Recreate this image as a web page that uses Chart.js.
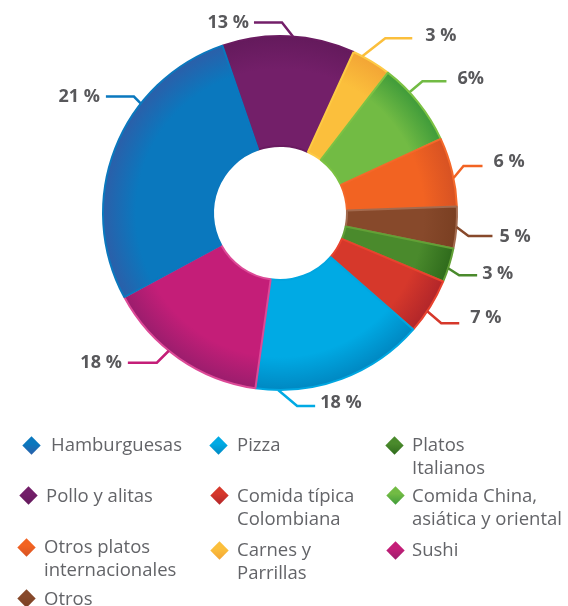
<!DOCTYPE html>
<html><head><meta charset="utf-8">
<script src="https://cdn.jsdelivr.net/npm/chart.js@4"></script>
<style>
html,body{margin:0;padding:0;background:#fff;}
#wrap{position:relative;width:568px;height:606px;overflow:hidden;}
#c{position:absolute;left:0;top:0;}
.lg{position:absolute;font-family:"Open Sans",sans-serif;font-size:18.5px;font-weight:500;color:#636468;line-height:23px;white-space:pre;}
.dm{position:absolute;width:13px;height:13px;transform:rotate(45deg);}
</style></head>
<body><div id="wrap"><canvas id="c" width="568" height="606" style="width:568px;height:606px"></canvas></div>
<script>
// ---- data (slice order, clockwise from the top) ----
const categories = ['Pollo y alitas','Carnes y Parrillas','Comida China, asiática y oriental','Otros platos internacionales','Otros','Platos Italianos','Comida típica Colombiana','Pizza','Sushi','Hamburguesas'];
// share of the ring each slice occupies in the picture (%)
const sliceShares = [12.1, 3.6, 7.7, 6.3, 3.8, 3.1, 5.1, 15.8, 14.9, 27.6];
// percentages printed next to the slices
const printedPercent = [13, 3, 6, 6, 5, 3, 7, 18, 18, 21];
const percentLabels = ['13 %','3 %','6%','6 %','5 %','3 %','7 %','18 %','18 %','21 %'];
// legend (reading order)
const legendOrder = ['Hamburguesas','Pizza','Platos Italianos','Pollo y alitas','Comida típica Colombiana','Comida China, asiática y oriental','Otros platos internacionales','Carnes y Parrillas','Sushi','Otros'];
const legendText = ['Hamburguesas','Pizza','Platos\nItalianos','Pollo y alitas','Comida típica\nColombiana','Comida China,\nasiática y oriental','Otros platos\ninternacionales','Carnes y\nParrillas','Sushi','Otros'];

// ---- styles ----
const baseColor = {
  'Pollo y alitas':'#731f69','Carnes y Parrillas':'#fbbf3c','Comida China, asiática y oriental':'#72bb44',
  'Otros platos internacionales':'#f26322','Otros':'#87492b','Platos Italianos':'#4a8a2c',
  'Comida típica Colombiana':'#d6382b','Pizza':'#00aae4','Sushi':'#c41e78','Hamburguesas':'#0a78be'};
const darkColor = {
  'Pollo y alitas':'#641a5c','Carnes y Parrillas':'#f3a535','Comida China, asiática y oriental':'#3f9b3a',
  'Otros platos internacionales':'#d75223','Otros':'#7a3f22','Platos Italianos':'#2f6b1c',
  'Comida típica Colombiana':'#b2262a','Pizza':'#0088c2','Sushi':'#9b1d6d','Hamburguesas':'#2b5fa9'};
const edgeColor = {
  'Pollo y alitas':'#6a1b60','Carnes y Parrillas':'#fdca45','Comida China, asiática y oriental':'#7cc243',
  'Otros platos internacionales':'#f4682a','Otros':'#a36a4e','Platos Italianos':'#62a036',
  'Comida típica Colombiana':'#e8422e','Pizza':'#00a6e0','Sushi':'#dc4a97','Hamburguesas':'#0a78be'};
// leader-line placement for each printed label: anchor angle (deg, clockwise from top), elbow offset, run, gap, text shift
const leaderLayout = [
  {ang:4.2,  dx:-11, dy:-14, run:-28, gap:5,  ty:0},
  {ang:27.7, dx:23,  dy:-18, run:27,  gap:13, ty:-2},
  {ang:47,   dx:13,  dy:-11, run:24,  gap:11, ty:-2},
  {ang:78.6, dx:10,  dy:-12, run:19,  gap:11, ty:-4},
  {ang:94.5, dx:12,  dy:9,   run:24,  gap:7,  ty:1},
  {ang:108.2,dx:11,  dy:7,   run:18,  gap:5,  ty:-1},
  {ang:123.7,dx:14,  dy:12,  run:18,  gap:11, ty:-5},
  {ang:180.6,dx:19,  dy:16,  run:18,  gap:5,  ty:-3},
  {ang:218.9,dx:-12, dy:12,  run:-29, gap:6,  ty:0},
  {ang:308.2,dx:-7,  dy:-7,  run:-28, gap:6,  ty:0}
];
// legend item placement: diamond centre and text top-left
const legendLayout = [
  {mx:31, my:445, tx:51,  ty:432},
  {mx:218,my:445, tx:237, ty:432},
  {mx:394,my:445, tx:412, ty:432},
  {mx:28, my:495, tx:46,  ty:483},
  {mx:219,my:495, tx:237, ty:483},
  {mx:395,my:495, tx:412, ty:483},
  {mx:26, my:547, tx:44,  ty:534},
  {mx:219,my:550, tx:237, ty:537},
  {mx:395,my:550, tx:412, ty:537},
  {mx:26, my:598, tx:44,  ty:586}
];

function fillFor(ctx){
  const chart = ctx.chart;
  const name = categories[ctx.dataIndex];
  const ca = chart.chartArea;
  if (!ca) return baseColor[name];
  const cx = (ca.left+ca.right)/2, cy = (ca.top+ca.bottom)/2;
  const g = chart.ctx.createRadialGradient(cx,cy,67,cx,cy,177);
  g.addColorStop(0, baseColor[name]);
  g.addColorStop(0.7, baseColor[name]);
  g.addColorStop(1, darkColor[name]);
  return g;
}

const leaderPlugin = {
  id:'leaders',
  afterDatasetsDraw(chart){
    const ctx = chart.ctx;
    const meta = chart.getDatasetMeta(0);
    ctx.save();
    meta.data.forEach((arc,i)=>{
      const L = leaderLayout[i];
      const a = (L.ang-90)*Math.PI/180;
      const r = arc.outerRadius;
      const x0 = arc.x + r*Math.cos(a), y0 = arc.y + r*Math.sin(a);
      const x1 = x0 + L.dx, y1 = y0 + L.dy;
      const x2 = x1 + L.run;
      ctx.strokeStyle = baseColor[categories[i]];
      ctx.lineWidth = 2.5;
      ctx.lineJoin = 'miter';
      ctx.beginPath(); ctx.moveTo(x0,y0); ctx.lineTo(x1,y1); ctx.lineTo(x2,y1); ctx.stroke();
      ctx.fillStyle = '#58585b';
      ctx.font = 'bold 18px "Open Sans", sans-serif';
      ctx.textBaseline = 'middle';
      if (L.run >= 0){ ctx.textAlign='left'; ctx.fillText(percentLabels[i], x2+L.gap, y1+L.ty); }
      else { ctx.textAlign='right'; ctx.fillText(percentLabels[i], x2-L.gap, y1+L.ty); }
    });
    ctx.restore();
  }
};

new Chart(document.getElementById('c'), {
  type:'doughnut',
  data:{ labels:categories, datasets:[{
    data:sliceShares,
    backgroundColor:fillFor,
    borderColor:categories.map(n=>edgeColor[n]),
    borderWidth:2
  }]},
  options:{
    responsive:false, animation:false,
    rotation:-19,
    radius:177,
    cutout:'37.85%',
    layout:{padding:{left:100,right:108,top:33,bottom:213}},
    plugins:{legend:{display:false}, tooltip:{enabled:false}}
  },
  plugins:[leaderPlugin]
});

// HTML legend
const wrap = document.getElementById('wrap');
legendOrder.forEach((name,k)=>{
  const p = legendLayout[k];
  const d = document.createElement('div');
  d.className='dm';
  d.style.left=(p.mx-6.5)+'px'; d.style.top=(p.my-6.5)+'px';
  d.style.background='linear-gradient(135deg,'+baseColor[name]+' 40%,'+darkColor[name]+')';
  wrap.appendChild(d);
  const t = document.createElement('div');
  t.className='lg';
  t.style.left=p.tx+'px'; t.style.top=p.ty+'px';
  t.textContent = legendText[k];
  wrap.appendChild(t);
});
</script>
</body></html>
